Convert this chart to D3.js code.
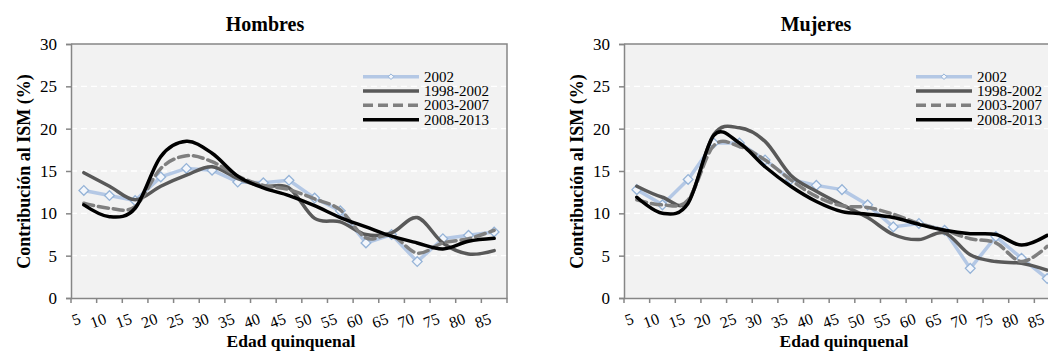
<!DOCTYPE html>
<html><head><meta charset="utf-8">
<script src="https://cdn.jsdelivr.net/npm/d3@7"></script>
<style>body{margin:0;background:#fff}svg{display:block}text{font-family:"Liberation Serif","Times New Roman",serif}</style>
</head><body><svg id="c" width="1048" height="351"></svg>
<script>
const ages = ["5","10","15","20","25","30","35","40","45","50","55","60","65","70","75","80","85"];
const yTicks = [0,5,10,15,20,25,30];
const seriesNames = ["2002","1998-2002","2003-2007","2008-2013"];

const hombres2002 = [12.7,12.1,11.5,14.3,15.3,15.1,13.7,13.6,13.9,11.8,10.3,6.5,7.5,4.3,7.0,7.4,7.8];
const hombres9802 = [14.8,13.2,11.6,13.2,14.5,15.5,14.1,13.2,13.0,9.4,9.0,7.5,7.7,9.5,6.5,5.2,5.6];
const hombres0307 = [11.2,10.6,10.8,15.3,16.8,16.1,14.4,13.3,12.8,11.7,10.4,7.1,7.4,5.3,6.5,7.0,8.0];
const hombres0813 = [11.0,9.6,10.6,16.7,18.5,17.1,14.4,13.0,12.1,10.9,9.5,8.4,7.3,6.5,5.8,6.7,7.05];

const mujeres2002 = [12.8,11.0,14.0,18.3,18.3,16.3,14.0,13.3,12.8,11.0,8.4,8.8,8.0,3.5,7.25,4.7,2.3];
const mujeres9802 = [13.2,11.9,11.4,19.3,20.1,18.5,14.5,12.6,11.0,9.5,7.5,6.9,7.7,5.1,4.3,4.1,3.3];
const mujeres0307 = [11.6,11.0,11.6,18.0,17.9,16.3,13.95,12.0,10.9,10.7,9.9,8.8,8.0,7.0,6.5,4.3,6.1];
const mujeres0813 = [11.9,10.0,11.2,19.2,18.3,15.5,13.2,11.4,10.2,9.9,9.5,8.7,8.0,7.6,7.5,6.25,7.4];

const styles = [
  {color:"#b4c8e5", width:3.5, dash:null, smooth:false, marker:true},
  {color:"#595959", width:3.5, dash:null, smooth:true},
  {color:"#7f7f7f", width:3.5, dash:"10,5", smooth:true},
  {color:"#000000", width:3.5, dash:null, smooth:true}
];

const panels = [
  {title:"Hombres", dx:0, titleX:265, series:[hombres2002,hombres9802,hombres0307,hombres0813]},
  {title:"Mujeres", dx:553, titleX:816, series:[mujeres2002,mujeres9802,mujeres0307,mujeres0813]}
];

const svg = d3.select("#c");
const axisColor = "#868686";

panels.forEach(p => {
  const left = 71 + p.dx, right = 507 + p.dx, top = 44, bottom = 298;
  const g = svg.append("g");
  const x = d3.scaleBand().domain(ages).range([left, right]);
  const y = d3.scaleLinear().domain([0, 30]).range([bottom, top]);
  const bw = x.bandwidth();

  g.append("rect").attr("x", left).attr("y", top).attr("width", right - left).attr("height", bottom - top).attr("fill", "#f2f2f2");
  g.selectAll(".grid").data(yTicks.filter(t => t > 0 && t < 30)).join("line")
    .attr("x1", left).attr("x2", right).attr("y1", d => y(d)).attr("y2", d => y(d))
    .attr("stroke", "#ffffff").attr("stroke-width", 1.3).attr("stroke-dasharray", "6,4");
  g.append("path").attr("d", `M${left},${top}H${right}V${bottom}`).attr("fill", "none").attr("stroke", axisColor).attr("stroke-width", 1.5);

  const ya = g.append("g").attr("transform", `translate(${left},0)`)
    .call(d3.axisLeft(y).tickValues(yTicks).tickSize(5).tickPadding(9).tickFormat(d3.format("d")));
  ya.attr("font-family", null);
  ya.select(".domain").attr("stroke", axisColor).attr("stroke-width", 1.5);
  ya.selectAll(".tick line").attr("stroke", axisColor).attr("stroke-width", 1.5);
  ya.selectAll(".tick text").attr("font-size", 17).attr("fill", "#000");

  const xa = g.append("g").attr("transform", `translate(0,${bottom})`)
    .call(d3.axisBottom(x).tickSize(0).tickFormat(""));
  xa.select(".domain").attr("stroke", axisColor).attr("stroke-width", 1.5);
  const bounds = ages.map(a => x(a)).concat([right]);
  g.selectAll(".xt").data(bounds).join("line")
    .attr("x1", d => d).attr("x2", d => d).attr("y1", bottom).attr("y2", bottom + 5)
    .attr("stroke", axisColor).attr("stroke-width", 1.5);
  g.selectAll(".xl").data(ages).join("text")
    .attr("transform", d => `translate(${x(d) + bw / 2 - 2},323) rotate(-20)`)
    .attr("text-anchor", "end").attr("font-size", 16).attr("fill", "#000").text(d => d);

  p.series.forEach((vals, si) => {
    const st = styles[si];
    const line = d3.line().x((d, i) => x(ages[i]) + bw / 2).y(d => y(d))
      .curve(st.smooth ? d3.curveCatmullRom.alpha(0) : d3.curveLinear);
    g.append("path").datum(vals).attr("d", line).attr("fill", "none")
      .attr("stroke", st.color).attr("stroke-width", st.width)
      .attr("stroke-dasharray", st.dash).attr("stroke-linejoin", "round").attr("stroke-linecap", "round");
    if (st.marker) {
      g.selectAll(".mk" + si).data(vals).join("path")
        .attr("d", d3.symbol(d3.symbolDiamond2, 60)())
        .attr("transform", (d, i) => `translate(${x(ages[i]) + bw / 2},${y(d)})`)
        .attr("fill", "#f3f6fb").attr("stroke", "#95b3d7").attr("stroke-width", 1.3);
    }
  });

  const lx1 = 363 + p.dx, lx2 = 419 + p.dx, tx = 424 + p.dx;
  const ly = [76.7, 91, 105.3, 119.7];
  seriesNames.forEach((n, si) => {
    const st = styles[si];
    g.append("line").attr("x1", lx1).attr("x2", lx2).attr("y1", ly[si]).attr("y2", ly[si])
      .attr("stroke", st.color).attr("stroke-width", st.width).attr("stroke-dasharray", st.dash);
    if (st.marker) {
      g.append("path").attr("d", d3.symbol(d3.symbolDiamond2, 20)())
        .attr("transform", `translate(${(lx1 + lx2) / 2},${ly[si]})`)
        .attr("fill", "#f3f6fb").attr("stroke", "#95b3d7").attr("stroke-width", 1);
    }
    g.append("text").attr("x", tx).attr("y", ly[si]).attr("dy", "0.33em")
      .attr("font-size", 15).attr("fill", "#000").text(n);
  });

  g.append("text").attr("x", p.titleX).attr("y", 31).attr("text-anchor", "middle")
    .attr("font-size", 20).attr("font-weight", "bold").text(p.title);
  g.append("text").attr("transform", `translate(${30 + p.dx},171.5) rotate(-90)`).attr("text-anchor", "middle")
    .attr("font-size", 18).attr("font-weight", "bold").text("Contribución al ISM (%)");
  g.append("text").attr("x", 291 + p.dx).attr("y", 347).attr("text-anchor", "middle")
    .attr("font-size", 17.5).attr("font-weight", "bold").text("Edad quinquenal");
});
</script></body></html>
